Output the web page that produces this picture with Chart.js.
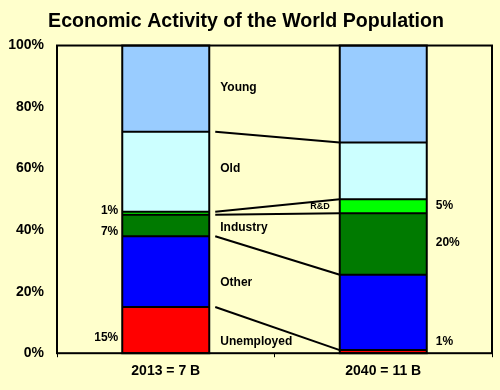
<!DOCTYPE html>
<html><head><meta charset="utf-8">
<script src="https://cdn.jsdelivr.net/npm/chart.js@4/dist/chart.umd.min.js"></script>
<style>html,body{margin:0;padding:0;background:#FFFFCC;}#wrap{width:500px;height:390px;}</style>
</head><body><div id="wrap"><canvas id="c" width="500" height="390"></canvas></div>
<script>
const categories = ["2013 = 7 B", "2040 = 11 B"];
const unemployed = [15, 1];
const other = [23, 24.5];
const industry = [7, 20];
const rnd = [1, 4.5];
const old = [26, 18.5];
const young = [28, 31.5];
const yTicks = [0, 20, 40, 60, 80, 100];

const seriesNames = ["Unemployed", "Other", "Industry", "R&D", "Old", "Young"];
const seriesData = [unemployed, other, industry, rnd, old, young];
const seriesColors = ["#FF0000", "#0000FF", "#007A00", "#00FF00", "#CCFFFF", "#99CCFF"];

const segLabels = [
  {t: "Young", v: 86.3}, {t: "Old", v: 60.1}, {t: "Industry", v: 40.8},
  {t: "Other", v: 22.9}, {t: "Unemployed", v: 3.6}
];
const pctLeft = [{t: "1%", v: 46.4}, {t: "7%", v: 39.5}, {t: "15%", v: 4.9}];
const pctRight = [{t: "5%", v: 48}, {t: "20%", v: 36}, {t: "1%", v: 3.6}];

const decor = {
  id: "decor",
  beforeDraw(chart) {
    const ctx = chart.ctx;
    ctx.save();
    ctx.fillStyle = "#FFFFCC";
    ctx.fillRect(0, 0, chart.width, chart.height);
    ctx.restore();
  },
  afterDatasetsDraw(chart) {
    const ctx = chart.ctx, a = chart.chartArea, ys = chart.scales.y;
    const m0 = chart.getDatasetMeta(0).data;
    const b1 = m0[0], b2 = m0[1];
    const b1r = b1.x + b1.width / 2, b2l = b2.x - b2.width / 2;
    ctx.save();
    ctx.strokeStyle = "#000"; ctx.lineWidth = 2;
    // segment boundaries and outline of each bar
    m0.forEach((b, j) => {
      const l = b.x - b.width / 2, r = b.x + b.width / 2;
      let c = 0;
      for (let i = 0; i < seriesData.length - 1; i++) {
        c += seriesData[i][j];
        const y = ys.getPixelForValue(c);
        ctx.beginPath(); ctx.moveTo(l, y); ctx.lineTo(r, y); ctx.stroke();
      }
      ctx.strokeRect(l, ys.getPixelForValue(100), b.width, ys.getPixelForValue(0) - ys.getPixelForValue(100));
    });
    // series lines
    let c1 = 0, c2 = 0;
    for (let i = 0; i < seriesData.length - 1; i++) {
      c1 += seriesData[i][0]; c2 += seriesData[i][1];
      ctx.beginPath();
      ctx.moveTo(b1r + 6, ys.getPixelForValue(c1));
      ctx.lineTo(b2l, ys.getPixelForValue(c2));
      ctx.stroke();
    }
    ctx.strokeRect(a.left, a.top, a.right - a.left, a.bottom - a.top);
    // labels
    ctx.fillStyle = "#000";
    ctx.textBaseline = "middle";
    ctx.font = "bold 12px Arial, 'Liberation Sans'";
    ctx.textAlign = "left";
    segLabels.forEach(l => ctx.fillText(l.t, b1r + 11, ys.getPixelForValue(l.v)));
    ctx.textAlign = "right";
    pctLeft.forEach(l => ctx.fillText(l.t, b1.x - b1.width / 2 - 4, ys.getPixelForValue(l.v)));
    ctx.textAlign = "left";
    pctRight.forEach(l => ctx.fillText(l.t, b2.x + b2.width / 2 + 9, ys.getPixelForValue(l.v)));
    ctx.font = "bold 9px Arial, 'Liberation Sans'";
    ctx.textAlign = "right";
    const rdMid = unemployed[1] + other[1] + industry[1] + rnd[1] / 2;
    ctx.fillText("R&D", b2l - 10, ys.getPixelForValue(rdMid));
    ctx.restore();
  }
};

new Chart(document.getElementById("c"), {
  type: "bar",
  data: {
    labels: categories,
    datasets: seriesNames.map((n, i) => ({
      label: n, data: seriesData[i], backgroundColor: seriesColors[i],
      borderWidth: 0,
      barPercentage: 0.4, categoryPercentage: 1
    }))
  },
  options: {
    responsive: false, animation: false, devicePixelRatio: 1,
    layout: {padding: {top: 0, right: 8, left: 0, bottom: 4}},
    plugins: {
      legend: {display: false}, tooltip: {enabled: false},
      title: {display: true, text: "Economic Activity of the World Population",
        color: "#000", font: {family: "Arial, 'Liberation Sans'", size: 19.6, weight: "bold"},
        padding: {top: 10, bottom: 12}}
    },
    scales: {
      x: {stacked: true, border: {display: false},
        grid: {offset: true, drawOnChartArea: false, tickLength: 4, color: "#000", lineWidth: 1},
        ticks: {color: "#000", font: {family: "Arial, 'Liberation Sans'", size: 14, weight: "bold"}, padding: 6}},
      y: {stacked: true, min: 0, max: 100, border: {display: false},
        afterBuildTicks: s => { s.ticks = yTicks.map(v => ({value: v})); },
        afterFit: s => { s.width = 57; },
        grid: {display: false, tickLength: 0},
        ticks: {color: "#000", padding: 13, font: {family: "Arial, 'Liberation Sans'", size: 14, weight: "bold"},
          callback: v => v + "%"}}
    }
  },
  plugins: [decor]
});
</script></body></html>
